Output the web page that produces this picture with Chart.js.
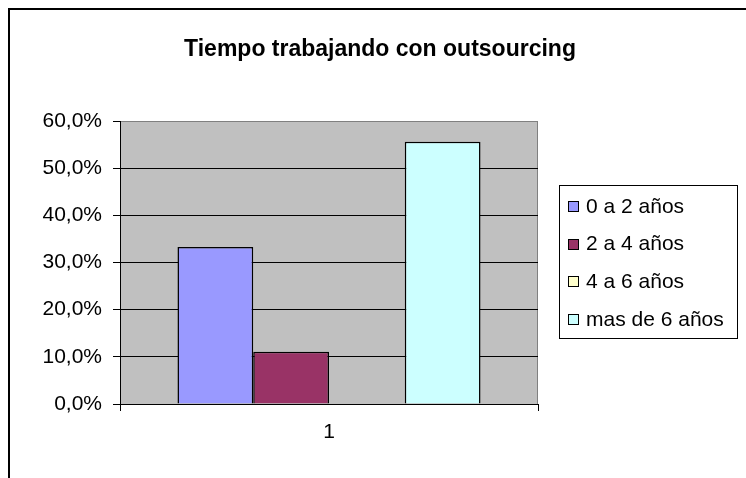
<!DOCTYPE html>
<html>
<head>
<meta charset="utf-8">
<script src="https://cdn.jsdelivr.net/npm/chart.js@4"></script>
<style>
  html, body { margin: 0; padding: 0; background: #fff; }
  canvas { display: block; }
</style>
</head>
<body>
<canvas id="chart" width="746" height="478"></canvas>
<script>
// data
var chartTitle = 'Tiempo trabajando con outsourcing';
var categories = ['1'];
var seriesNames = ['0 a 2 años', '2 a 4 años', '4 a 6 años', 'mas de 6 años'];
var seriesValues = [[0.333], [0.111], [0], [0.556]];
var seriesColors = ['#9999FF', '#993366', '#FFFFCC', '#CCFFFF'];
var yTicks = [0, 0.1, 0.2, 0.3, 0.4, 0.5, 0.6];

var FONT = '"Liberation Sans", Arial, sans-serif';

// white page, frame lines, grey plot area, title centred over the whole chart
var backdrop = {
  id: 'backdrop',
  beforeDraw: function(chart) {
    var ctx = chart.ctx, a = chart.chartArea;
    ctx.save();
    ctx.fillStyle = '#fff';
    ctx.fillRect(0, 0, chart.width, chart.height);
    ctx.strokeStyle = '#000';
    ctx.lineWidth = 2;
    ctx.beginPath();
    ctx.moveTo(9, chart.height); ctx.lineTo(9, 9); ctx.lineTo(chart.width, 9);
    ctx.stroke();
    ctx.fillStyle = '#C0C0C0';
    ctx.fillRect(a.left, a.top, a.right - a.left, a.bottom - a.top);
    ctx.strokeStyle = '#808080';
    ctx.lineWidth = 1;
    ctx.beginPath();
    ctx.moveTo(a.left, a.top + 0.5); ctx.lineTo(a.right - 0.5, a.top + 0.5); ctx.lineTo(a.right - 0.5, a.bottom);
    ctx.stroke();
    ctx.fillStyle = '#000';
    ctx.font = 'bold 23px ' + FONT;
    ctx.textAlign = 'center';
    ctx.textBaseline = 'middle';
    ctx.fillText(chartTitle, 380, 50);
    ctx.restore();
  }
};

// legend box on the right, Excel style
var boxLegend = {
  id: 'boxLegend',
  afterDraw: function(chart) {
    var ctx = chart.ctx;
    ctx.save();
    ctx.fillStyle = '#fff';
    ctx.fillRect(559, 185, 178, 153);
    ctx.strokeStyle = '#000';
    ctx.lineWidth = 1;
    ctx.strokeRect(559.5, 185.5, 178, 153);
    ctx.font = '21px ' + FONT;
    ctx.textBaseline = 'middle';
    chart.data.datasets.forEach(function(ds, i) {
      var y = 206 + i * 37.7;
      ctx.fillStyle = ds.backgroundColor;
      ctx.fillRect(568, Math.round(y) - 5, 11, 11);
      ctx.strokeRect(568.5, Math.round(y) - 4.5, 10, 10);
      ctx.fillStyle = '#000';
      ctx.fillText(ds.label, 586, y + 1);
    });
    ctx.restore();
  }
};

var datasets = [];
for (var i = 0; i < seriesNames.length; i++) {
  datasets.push({
    label: seriesNames[i],
    data: seriesValues[i],
    backgroundColor: seriesColors[i],
    borderColor: '#000',
    borderWidth: 1.5,
    categoryPercentage: 0.725,
    barPercentage: 1
  });
}

new Chart(document.getElementById('chart'), {
  type: 'bar',
  data: { labels: categories, datasets: datasets },
  plugins: [backdrop, boxLegend],
  options: {
    responsive: false,
    devicePixelRatio: 1,
    animation: false,
    layout: { padding: { left: 0, right: 208, top: 121, bottom: 0 } },
    plugins: {
      legend: { display: false },
      tooltip: { enabled: false },
      title: { display: false }
    },
    scales: {
      x: {
        afterFit: function(s) { s.height = 74; },
        grid: { drawOnChartArea: false, color: '#000', tickLength: 7 },
        border: { color: '#000', width: 1 },
        ticks: { color: '#000', padding: 9, font: { family: FONT, size: 21 } }
      },
      y: {
        min: 0,
        max: 0.6,
        afterFit: function(s) { s.width = 120; },
        afterBuildTicks: function(s) { s.ticks = yTicks.map(function(v) { return { value: v }; }); },
        grid: {
          color: function(c) { return c.tick && c.tick.value >= 0.6 ? '#808080' : '#000'; },
          tickColor: '#000',
          tickLength: 7
        },
        border: { color: '#000', width: 1 },
        ticks: {
          color: '#000',
          padding: 11,
          font: { family: FONT, size: 21 },
          callback: function(v) { return (v * 100).toFixed(1).replace('.', ',') + '%'; }
        }
      }
    }
  }
});
</script>
</body>
</html>
